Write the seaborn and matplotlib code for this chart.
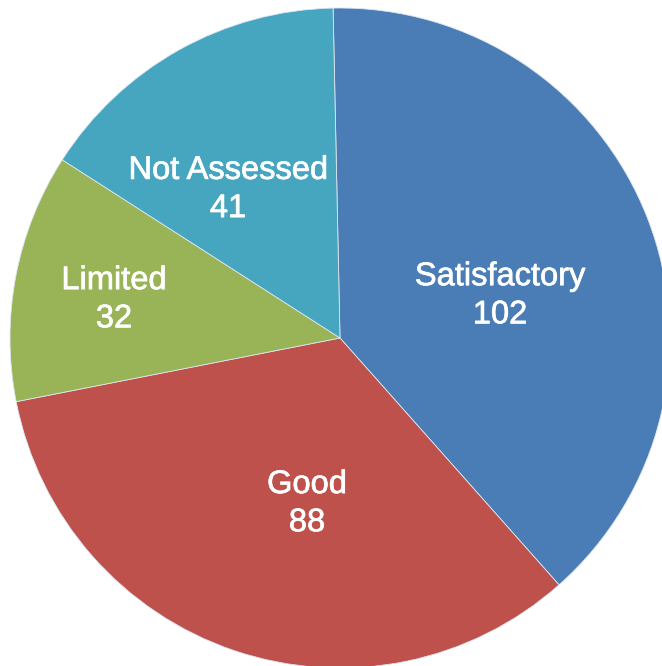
import matplotlib
matplotlib.use("Agg")
import matplotlib.pyplot as plt
import matplotlib.patheffects as pe
import seaborn as sns

# data
categories = ["Satisfactory", "Good", "Limited", "Not Assessed"]
counts = [102, 88, 32, 41]
colors = ["#4A7DB5", "#BE514B", "#98B457", "#47A6BF"]

# label placement (in pie-radius units)
label_pos = [(0.485, 0.128), (-0.10, -0.502), (-0.685, 0.116), (-0.339, 0.450)]

sns.set_theme(style="white")
plt.rcParams["font.family"] = ["Liberation Sans", "DejaVu Sans"]

fig = plt.figure(figsize=(6.62, 6.66), dpi=100)
ax = fig.add_axes([0, 0, 1, 1])

wedges, _ = ax.pie(counts, colors=colors, startangle=91.2, counterclock=False,
                   radius=1.0, wedgeprops=dict(edgecolor="#dce6f0", linewidth=0.6))

for (x, y), name, val in zip(label_pos, categories, counts):
    ax.text(x, y, f"{name}\n{val}", ha="center", va="center", color="white",
            fontsize=23.5, linespacing=1.3,
            path_effects=[pe.withStroke(linewidth=0.5, foreground="white")])

r_px = 330.0
cx, cy = 340.0, 338.0
ax.set_xlim(-cx / r_px, (662 - cx) / r_px)
ax.set_ylim(-(666 - cy) / r_px, cy / r_px)
ax.set_aspect("auto")
ax.axis("off")

fig.savefig("out.png", dpi=100)
